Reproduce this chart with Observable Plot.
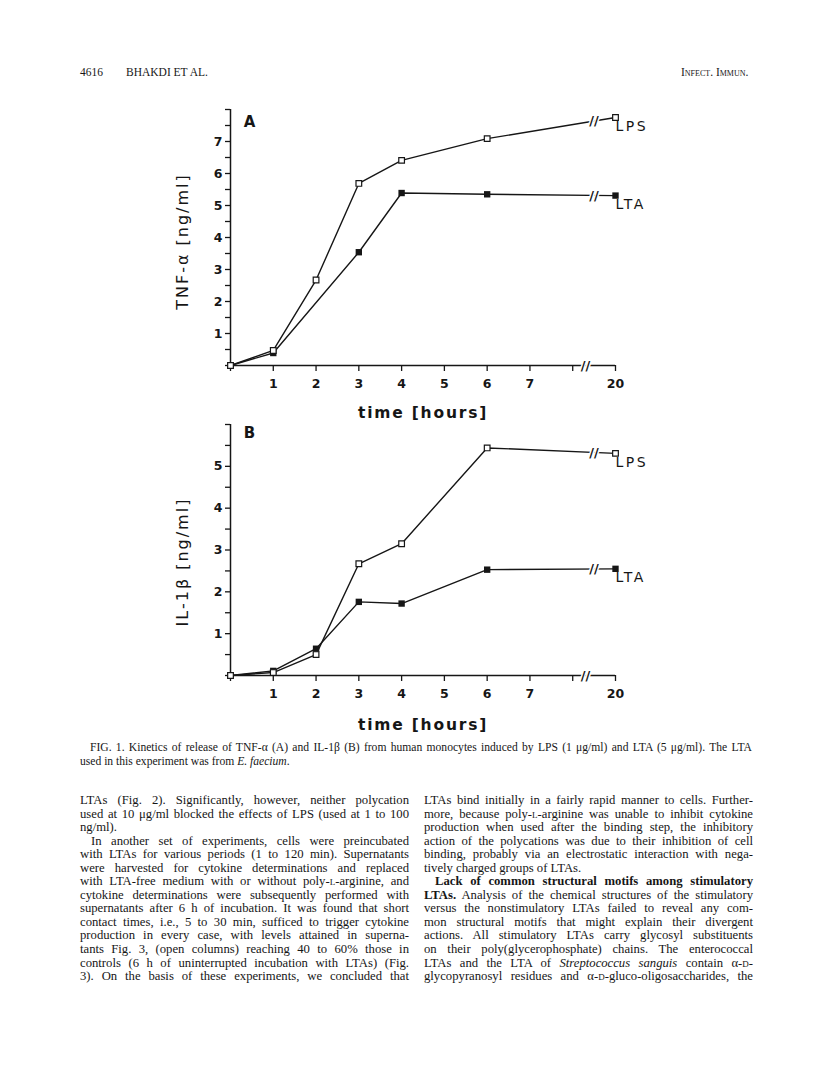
<!DOCTYPE html>
<html><head><meta charset="utf-8">
<script src="https://cdn.jsdelivr.net/npm/d3@7"></script>
<script src="https://cdn.jsdelivr.net/npm/@observablehq/plot@0.6"></script>
<style>
html,body{margin:0;padding:0;background:#fff;}
body{width:816px;height:1075px;position:relative;overflow:hidden;font-family:"Liberation Serif","Times New Roman",serif;color:#161616;}
.abs{position:absolute;}
.hdr{top:65px;font-size:11.5px;line-height:14px;}
.sc{font-variant:small-caps;}
.cap{left:80px;width:672px;top:741px;font-size:11.6px;line-height:14px;}
.cap div{text-align:justify;text-align-last:justify;white-space:nowrap;}
.col{top:794px;width:329px;font-size:12.7px;line-height:13.55px;}
.col div{text-align:justify;text-align-last:justify;white-space:nowrap;height:13.55px;}
.col div.end{text-align-last:left;}
.col div.ind{padding-left:11px;}
#chartA,#chartB{position:absolute;left:150px;}
#chartA{top:95px;}
#chartB{top:410px;}
</style></head>
<body>
<div class="abs hdr" style="left:80px;">4616</div>
<div class="abs hdr" style="left:126px;">BHAKDI ET AL.</div>
<div class="abs hdr sc" style="left:681px;">Infect. Immun.</div>

<div id="chartA"></div>
<div id="chartB"></div>

<div class="abs cap">
<div style="padding-left:10px;">FIG. 1. Kinetics of release of TNF-α (A) and IL-1β (B) from human monocytes induced by LPS (1 μg/ml) and LTA (5 μg/ml). The LTA</div>
<div style="text-align-last:left;">used in this experiment was from <i>E. faecium</i>.</div>
</div>

<div class="abs col" style="left:80px;">
<div>LTAs (Fig. 2). Significantly, however, neither polycation</div>
<div>used at 10 μg/ml blocked the effects of LPS (used at 1 to 100</div>
<div class="end">ng/ml).</div>
<div class="ind">In another set of experiments, cells were preincubated</div>
<div>with LTAs for various periods (1 to 120 min). Supernatants</div>
<div>were harvested for cytokine determinations and replaced</div>
<div>with LTA-free medium with or without poly-<span class="sc">l</span>-arginine, and</div>
<div>cytokine determinations were subsequently performed with</div>
<div>supernatants after 6 h of incubation. It was found that short</div>
<div>contact times, i.e., 5 to 30 min, sufficed to trigger cytokine</div>
<div>production in every case, with levels attained in superna-</div>
<div>tants Fig. 3, (open columns) reaching 40 to 60% those in</div>
<div>controls (6 h of uninterrupted incubation with LTAs) (Fig.</div>
<div>3). On the basis of these experiments, we concluded that</div>
</div>

<div class="abs col" style="left:424px;">
<div>LTAs bind initially in a fairly rapid manner to cells. Further-</div>
<div>more, because poly-<span class="sc">l</span>-arginine was unable to inhibit cytokine</div>
<div>production when used after the binding step, the inhibitory</div>
<div>action of the polycations was due to their inhibition of cell</div>
<div>binding, probably via an electrostatic interaction with nega-</div>
<div class="end">tively charged groups of LTAs.</div>
<div class="ind"><b>Lack of common structural motifs among stimulatory</b></div>
<div><b>LTAs.</b> Analysis of the chemical structures of the stimulatory</div>
<div>versus the nonstimulatory LTAs failed to reveal any com-</div>
<div>mon structural motifs that might explain their divergent</div>
<div>actions. All stimulatory LTAs carry glycosyl substituents</div>
<div>on their poly(glycerophosphate) chains. The enterococcal</div>
<div>LTAs and the LTA of <i>Streptococcus sanguis</i> contain α-<span class="sc">d</span>-</div>
<div>glycopyranosyl residues and α-<span class="sc">d</span>-gluco-oligosaccharides, the</div>
</div>

<script>
// ---- data ----
const hoursLpsA = [0, 1, 2, 3, 4, 6, 20];
const tnfLPS    = [0, 0.47, 2.67, 5.69, 6.41, 7.09, 7.75];
const hoursLtaA = [0, 1, 3, 4, 6, 20];
const tnfLTA    = [0, 0.39, 3.54, 5.39, 5.35, 5.31];
const hoursB    = [0, 1, 2, 3, 4, 6, 20];
const il1bLPS   = [0, 0.07, 0.50, 2.67, 3.15, 5.44, 5.31];
const il1bLTA   = [0, 0.11, 0.64, 1.76, 1.72, 2.53, 2.55];
const xTickLabels = ["", "1", "2", "3", "4", "5", "6", "7", "", "20"];
const seriesNames = ["LPS", "LTA"];
const xTitle = "time [hours]";

// broken time axis: hours 0..8 linear, 20 h drawn at slot 9
const slot = h => (h >= 20 ? 9 : h);
const INK = "#161616";
const SANS = "DejaVu Sans, Verdana, sans-serif";

function panel(cfg) {
  const lps = cfg.lpsHours.map((h, i) => ({x: slot(h), y: cfg.lps[i]}));
  const lta = cfg.ltaHours.map((h, i) => ({x: slot(h), y: cfg.lta[i]}));
  const brk = 8.5;
  const along = d => { const a = d[d.length - 2], b = d[d.length - 1]; return a.y + (b.y - a.y) * (brk - a.x) / (b.x - a.x); };
  const breaks = [{x: 8.3, y: 0}, {x: brk, y: along(lps)}, {x: brk, y: along(lta)}];
  const ends = [{...lps[lps.length - 1], name: seriesNames[0]}, {...lta[lta.length - 1], name: seriesNames[1]}];
  const svg = Plot.plot({
    width: 520, height: cfg.height,
    marginLeft: 80, marginRight: 55, marginTop: 14, marginBottom: cfg.height - 14 - cfg.frameH,
    style: {background: "transparent", overflow: "visible", color: INK},
    x: {domain: [0, 9]},
    y: {domain: [0, cfg.yMax]},
    marks: [
      Plot.ruleY([0], {x1: 0, x2: 9, stroke: INK, strokeWidth: 1.5}),
      Plot.ruleX([0], {y1: 0, y2: cfg.yMax, stroke: INK, strokeWidth: 1.5}),
      Plot.axisX({ticks: d3.range(0, 10), tickFormat: i => xTickLabels[i], tickSize: 6, tickPadding: 8,
        label: null, fontFamily: SANS, fontSize: 12.5, fontWeight: "bold", stroke: INK, strokeWidth: 1.3}),
      Plot.axisY({ticks: d3.range(0, cfg.yMax + 0.01, 0.5),
        tickFormat: d => (Number.isInteger(d) && d >= 1 && d < cfg.yMax) ? String(d) : "",
        tickSize: 5, tickPadding: 3, label: null, fontFamily: SANS, fontSize: 12.5, fontWeight: "bold", strokeWidth: 1.3}),
      Plot.line(lps, {x: "x", y: "y", stroke: INK, strokeWidth: 1.4}),
      Plot.line(lta, {x: "x", y: "y", stroke: INK, strokeWidth: 1.4}),
      Plot.text(breaks, {x: "x", y: "y", text: () => "//", fontFamily: SANS, fontSize: 13, fontWeight: "bold",
        fill: INK, stroke: "white", strokeWidth: 3, paintOrder: "stroke"}),
      Plot.dot(lta, {x: "x", y: "y", symbol: "square", fill: INK, r: 3.6}),
      Plot.dot(lps, {x: "x", y: "y", symbol: "square", fill: "white", stroke: INK, strokeWidth: 1.2, r: 3.2}),
      Plot.text(ends, {x: "x", y: "y", text: "name", textAnchor: "start", dx: 0, dy: 9, fontFamily: SANS,
        fontSize: 14, fill: INK}),
      Plot.text([cfg.letter], {frameAnchor: "top-left", dx: 19, dy: cfg.letterDy, textAnchor: "middle",
        lineAnchor: "middle", fontFamily: SANS, fontSize: 15, fontWeight: "bold", fill: INK}),
      Plot.text([cfg.yLabel], {frameAnchor: "left", dx: -48, dy: cfg.yLabelDy, rotate: -90, textAnchor: "middle",
        lineAnchor: "middle", fontFamily: SANS, fontSize: 16, fill: INK}),
      Plot.text([xTitle], {frameAnchor: "bottom", dy: cfg.xLabelDy, textAnchor: "middle", lineAnchor: "middle",
        fontFamily: SANS, fontSize: 15.5, fontWeight: "bold", fill: INK})
    ]
  });
  // letter-spacing tweaks for the typewriter-like lettering
  svg.querySelectorAll("text").forEach(t => {
    const s = t.textContent;
    if (seriesNames.includes(s)) t.style.letterSpacing = "2.5px";
    else if (s === xTitle) t.style.letterSpacing = "1.8px";
    else if (s === cfg.yLabel) t.style.letterSpacing = "2px";
  });
  return svg;
}

document.getElementById("chartA").append(panel({
  lpsHours: hoursLpsA, lps: tnfLPS, ltaHours: hoursLtaA, lta: tnfLTA,
  yMax: 8, height: 330, frameH: 256, letter: "A", letterDy: 13,
  yLabel: "TNF-α [ng/ml]", yLabelDy: 4, xLabelDy: 48
}));
document.getElementById("chartB").append(panel({
  lpsHours: hoursB, lps: il1bLPS, ltaHours: hoursB, lta: il1bLTA,
  yMax: 6, height: 325, frameH: 251, letter: "B", letterDy: 9,
  yLabel: "IL-1β [ng/ml]", yLabelDy: 12, xLabelDy: 50
}));
</script>
</body></html>
